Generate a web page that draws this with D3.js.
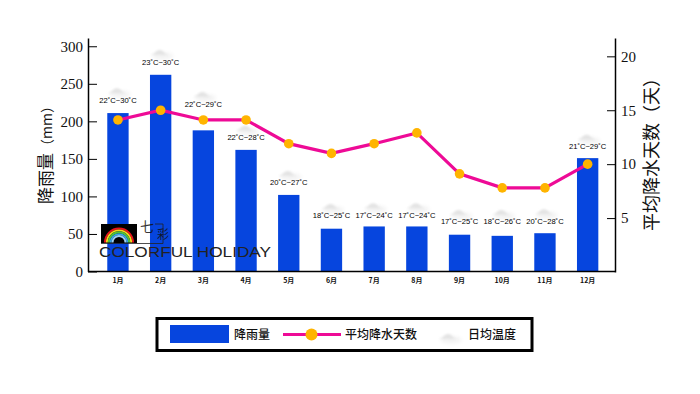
<!DOCTYPE html>
<html>
<head>
<meta charset="utf-8">
<script src="https://cdn.jsdelivr.net/npm/d3@7"></script>
<style>
body { margin: 0; background: #fff; }
svg { display: block; }
.tick text { font-family: "Liberation Serif", serif; font-size: 15px; fill: #111; }
.cjk { font-family: "Noto Sans CJK SC", sans-serif; fill: #111; }
</style>
</head>
<body>
<div id="chart"></div>
<script>
const months = ['1月', '2月', '3月', '4月', '5月', '6月', '7月', '8月', '9月', '10月', '11月', '12月'];
const rainfall = [211, 262, 188, 162, 102, 57, 60, 60, 49, 47.5, 51, 151];
const rainDays = [14.1, 15, 14.1, 14.1, 11.9, 11, 11.9, 12.9, 9.1, 7.8, 7.8, 10];
const tempRange = ['22˚C~30˚C', '23˚C~30˚C', '22˚C~29˚C', '22˚C~28˚C', '20˚C~27˚C', '18˚C~25˚C',
    '17˚C~24˚C', '17˚C~24˚C', '17˚C~25˚C', '18˚C~26˚C', '20˚C~28˚C', '21˚C~29˚C'];
// height of the temperature markers, read against the left axis
const tempLevel = [228, 279, 223, 178, 118, 74, 75, 75, 66, 66, 67, 166];
const leftTicks = [0, 50, 100, 150, 200, 250, 300];
const rightTicks = [5, 10, 15, 20];

const blue = '#0645de', pink = '#ee0a96', amber = '#ffb400';

const svg = d3.select('#chart').append('svg')
    .attr('width', 700)
    .attr('height', 394);

const defs = svg.append('defs');
defs.append('filter').attr('id', 'soft').attr('x', '-50%').attr('y', '-80%').attr('width', '200%').attr('height', '260%')
    .append('feGaussianBlur').attr('stdDeviation', 2);
defs.append('filter').attr('id', 'soft2').attr('x', '-30%').attr('y', '-50%').attr('width', '160%').attr('height', '200%')
    .append('feGaussianBlur').attr('stdDeviation', 0.8);

const x = d3.scaleBand().domain(months).range([96.6, 609]).paddingInner(0.5).paddingOuter(0.25);
const yLeft = d3.scaleLinear().domain([0, 311]).range([271.5, 38]);
const yRight = d3.scaleLinear().domain([0, 21.7]).range([272, 38]);
const cx = d => x(d) + x.bandwidth() / 2;

// bars
svg.append('g').selectAll('rect')
    .data(months)
    .enter().append('rect')
    .attr('x', d => x(d))
    .attr('width', x.bandwidth())
    .attr('y', (d, i) => yLeft(rainfall[i]))
    .attr('height', (d, i) => yLeft(0) - yLeft(rainfall[i]))
    .attr('fill', blue);

// axes
const axisLeft = svg.append('g')
    .attr('transform', 'translate(88,0)')
    .call(d3.axisLeft(yLeft).tickValues(leftTicks).tickSizeInner(-9).tickSizeOuter(0).tickPadding(4));
const axisRight = svg.append('g')
    .attr('transform', 'translate(615,0)')
    .call(d3.axisRight(yRight).tickValues(rightTicks).tickSizeInner(-8).tickSizeOuter(0).tickPadding(4));
[axisLeft, axisRight].forEach(a => {
    a.selectAll('.domain').attr('stroke', '#000').attr('stroke-width', 1.5);
    a.selectAll('.tick line').attr('stroke', '#000');
    a.selectAll('.tick text').attr('dx', a === axisLeft ? -1 : 2);
});
svg.append('line').attr('x1', 88).attr('x2', 615).attr('y1', 271.5).attr('y2', 271.5)
    .attr('stroke', '#000').attr('stroke-width', 1.5);

// month labels
svg.append('g').selectAll('text')
    .data(months)
    .enter().append('text')
    .attr('class', 'cjk')
    .attr('x', d => cx(d))
    .attr('y', 283)
    .attr('text-anchor', 'middle')
    .attr('font-size', 7)
    .attr('font-weight', 700)
    .text(d => d);

// axis titles
const leftTitle = svg.append('text').attr('class', 'cjk')
    .attr('transform', 'translate(52,204) rotate(-90)')
    .attr('font-size', 17)
    .text('降雨量');
leftTitle.append('tspan').attr('font-size', 14).text('（mm）');
svg.append('text').attr('class', 'cjk')
    .attr('transform', 'translate(658,231) rotate(-90)')
    .attr('font-size', 18)
    .text('平均降水天数（天）');

function cloud(g) {
    g.append('ellipse').attr('cx', 3).attr('cy', 3).attr('rx', 11).attr('ry', 3.5)
        .attr('fill', '#000').attr('opacity', 0.05).attr('filter', 'url(#soft)');
    g.append('path').attr('d', 'M-9,2 Q-5,1 -3,-2 Q0,-4 3,-2 Q5,1 9,2 Z')
        .attr('fill', '#e4e4e4').attr('filter', 'url(#soft2)');
}

// temperature markers
const temp = svg.append('g').selectAll('g')
    .data(months)
    .enter().append('g')
    .attr('transform', (d, i) => `translate(${cx(d)},${yLeft(tempLevel[i])})`);
temp.append('g').attr('transform', 'translate(-1,-9)').call(cloud);
temp.append('text')
    .attr('text-anchor', 'middle')
    .attr('dy', 2.5)
    .attr('font-family', '"Liberation Sans", sans-serif')
    .attr('font-size', 7.6)
    .attr('fill', '#000')
    .text((d, i) => tempRange[i]);

// line
const line = d3.line()
    .x(d => cx(d))
    .y(d => yRight(rainDays[months.indexOf(d)]));
svg.append('path')
    .datum(months)
    .attr('d', line)
    .attr('fill', 'none')
    .attr('stroke', pink)
    .attr('stroke-width', 3.2);
svg.append('g').selectAll('circle')
    .data(months)
    .enter().append('circle')
    .attr('cx', d => cx(d))
    .attr('cy', (d, i) => yRight(rainDays[i]))
    .attr('r', 4.8)
    .attr('fill', amber);

// watermark
const mark = svg.append('g').attr('transform', 'translate(101,224)');
mark.append('rect').attr('width', 36).attr('height', 19).attr('fill', '#000');
const arcColors = ['#e8141c', '#f7d41a', '#4fc23c', '#39a7e8', '#9fd0f4'];
arcColors.forEach((c, i) => {
    mark.append('path')
        .attr('d', d3.arc().innerRadius(15 - i * 1.9 - 1.9).outerRadius(15 - i * 1.9).startAngle(-Math.PI / 2).endAngle(Math.PI / 2)())
        .attr('transform', 'translate(18,18.5)')
        .attr('fill', c);
});
mark.append('path').attr('d', 'M0,19.5H62V0H54').attr('fill', 'none').attr('stroke', '#222').attr('stroke-width', 0.8);
mark.append('text').attr('class', 'cjk').attr('x', 39).attr('y', 8).attr('font-size', 14).attr('fill-opacity', 0.85).text('七');
mark.append('text').attr('class', 'cjk').attr('x', 56).attr('y', 15).attr('font-size', 12).attr('fill-opacity', 0.85).text('彩');
svg.append('text')
    .attr('x', 99).attr('y', 257)
    .attr('font-family', '"Liberation Sans", sans-serif')
    .attr('font-size', 15)
    .attr('textLength', 172)
    .attr('lengthAdjust', 'spacingAndGlyphs')
    .attr('fill', '#222')
    .text('COLORFUL HOLIDAY');

// legend
const legend = svg.append('g');
legend.append('rect').attr('x', 157).attr('y', 318.5).attr('width', 375).attr('height', 32)
    .attr('fill', '#fff').attr('stroke', '#000').attr('stroke-width', 3);
legend.append('rect').attr('x', 170).attr('y', 325).attr('width', 59).attr('height', 18).attr('fill', blue);
legend.append('text').attr('class', 'cjk').attr('x', 234).attr('y', 339).attr('font-size', 12).attr('font-weight', 500).text('降雨量');
legend.append('line').attr('x1', 283).attr('x2', 341).attr('y1', 334.5).attr('y2', 334.5)
    .attr('stroke', pink).attr('stroke-width', 3);
legend.append('circle').attr('cx', 311.5).attr('cy', 334.5).attr('r', 6).attr('fill', amber);
legend.append('text').attr('class', 'cjk').attr('x', 345).attr('y', 339).attr('font-size', 12).attr('font-weight', 500).text('平均降水天数');
legend.append('g').attr('transform', 'translate(448,337)').call(cloud);
legend.append('text').attr('class', 'cjk').attr('x', 468).attr('y', 339).attr('font-size', 12).attr('font-weight', 500).text('日均温度');
</script>
</body>
</html>
